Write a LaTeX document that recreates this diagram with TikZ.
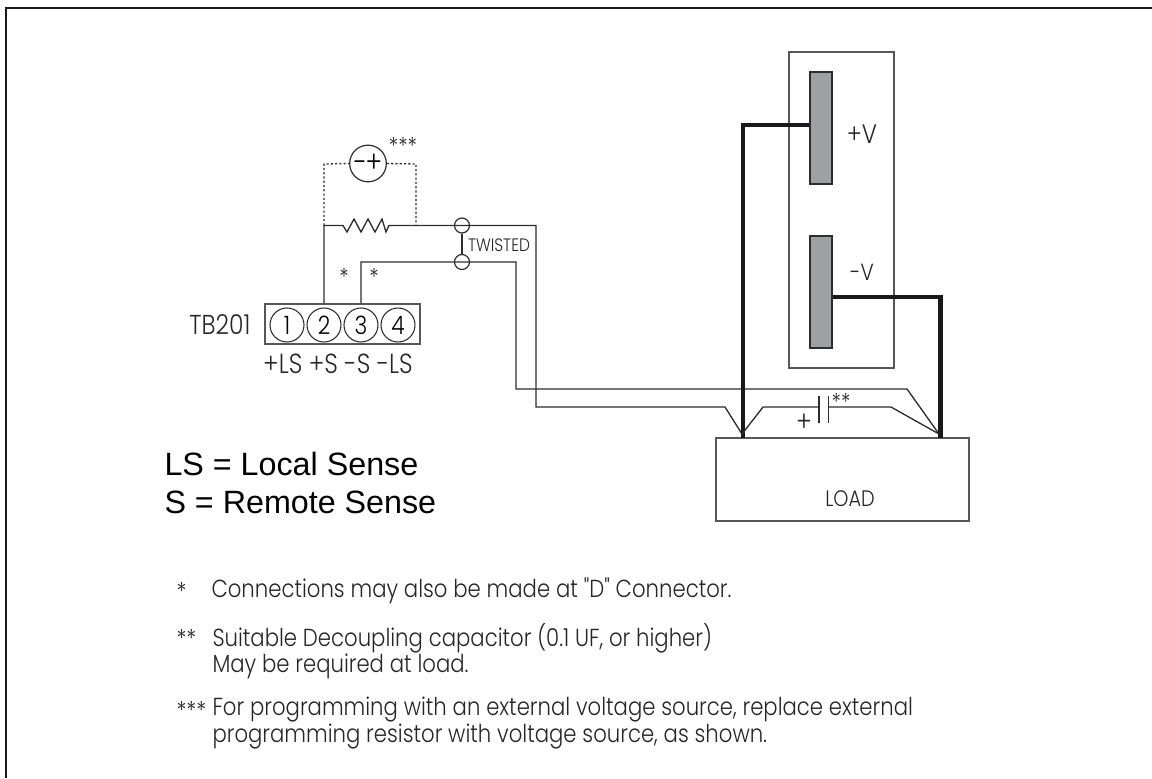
\documentclass[tikz,border=0pt]{standalone}
\usepackage{fontspec}
\setmainfont{Liberation Sans}
\newfontfamily\gothfont[FakeStretch=0.86]{Poppins Light}
\definecolor{platefill}{RGB}{158,160,163}
\definecolor{wireink}{RGB}{45,45,45}
\tikzset{every picture/.style={line width=0.75pt}}
\tikzset{
  wire/.style={draw=wireink,line width=1pt},
  dotlead/.style={draw=wireink,line width=1pt,dash pattern=on 1.6pt off 1.6pt},
  boxline/.style={draw=wireink!80,line width=1.1pt},
  powerwire/.style={draw=black!90,line width=3.5pt,miter limit=10},
  sensedot/.style={circle,draw=wireink,line width=0.9pt,minimum size=11.25pt,inner sep=0pt},
  pinlabel/.style={circle,draw=wireink,line width=0.8pt,minimum size=25.5pt,inner sep=0pt,font=\gothfont\fontsize{19}{20}\selectfont},
  plate/.style={draw=wireink,fill=platefill,line width=0.9pt,minimum width=16.5pt,minimum height=84pt,inner sep=0pt},
  gothlabel/.style={inner sep=0pt,font=\gothfont\fontsize{17.5}{18}\selectfont,text=black!85},
  notelabel/.style={inner sep=0pt,anchor=west,align=left,font=\gothfont\fontsize{18.5}{17.5}\selectfont,text=black!85},
  keylabel/.style={inner sep=0pt,anchor=west,font=\fontsize{24.2}{28}\selectfont}
}
\begin{document}
\begin{tikzpicture}[x=0.75pt,y=0.75pt,yscale=-1,xscale=1]
\useasboundingbox (0,0) rectangle (1152,778);

%Frame
\draw [black!90,line width=2.2pt] (6,778) -- (6,8) -- (1152,8) ;

%Supply
\node [boxline,rectangle,minimum width=78.75pt,minimum height=237pt,inner sep=0pt] (supply) at (841.5,210) {};
\node [plate] (plateplus) at (821,128) {};
\node [plate] (plateminus) at (821,292) {};
\node [gothlabel,font=\gothfont\fontsize{20}{22}\selectfont] (plusv) at (862,134) {+V};
\node [gothlabel,font=\gothfont\fontsize{17.5}{22}\selectfont] (minusv) at (862,272) {-V};

%Load
\node [boxline,rectangle,minimum width=189.75pt,minimum height=62.25pt,inner sep=0pt] (load) at (842.5,479.5) {};
\node [gothlabel,font=\gothfont\fontsize{16.8}{18}\selectfont] (loadtext) at (850,499) {LOAD};

%Terminal block
\node [boxline,rectangle,minimum width=116.25pt,minimum height=30pt,inner sep=0pt] (block) at (342.5,324) {};
\node [pinlabel] (pinone) at (287,325) {1};
\node [pinlabel] (pintwo) at (324,325) {2};
\node [pinlabel] (pinthree) at (361,325) {3};
\node [pinlabel] (pinfour) at (398,325) {4};
\node [gothlabel,font=\gothfont\fontsize{20.5}{22}\selectfont,anchor=east] (tbtext) at (251,325) {TB201};
\node [gothlabel,font=\gothfont\fontsize{20.7}{22}\selectfont] (pintext) at (338,364) {+LS +S -S -LS};

%Voltage source
\node [circle,draw=wireink,line width=0.9pt,minimum size=27.5pt,inner sep=0pt,font=\gothfont\fontsize{22}{24}\selectfont] (source) at (368,163.5) {-\kern-1pt+};
\node [gothlabel] (starsthree) at (403,146) {***};

%Twisted pair
\node [sensedot] (twistup) at (462,225.5) {};
\node [sensedot] (twistdown) at (462,262) {};
\node [gothlabel,font=\gothfont\fontsize{13.5}{14}\selectfont] (twisttext) at (499,245) {TWISTED};
\node [gothlabel] (starleft) at (344,277) {*};
\node [gothlabel] (starright) at (374,277) {*};

\coordinate (senseplus) at (324,225.5);
\coordinate (dotright) at (416,225.5);
\coordinate (resleft) at (343,225.5);
\coordinate (resright) at (389,225.5);
\coordinate (loadleft) at (742,434);
\coordinate (loadright) at (939,434);

%Sense wires
\draw [wire] (pintwo |- block.north) -- (senseplus) -- (resleft) -- (347,232) -- (354,219) -- (361,232) -- (368,219) -- (375,232) -- (382,219) -- (386,232) -- (resright) -- (twistup.center) -- (536,225.5) -- (536,407) -- (725,407) -- (loadleft) ;
\draw [wire] (pinthree |- block.north) -- (361,262) -- (twistdown.center) -- (516,262) -- (516,389) -- (907,389) -- (loadright) ;
\draw [wire] (twistup) -- (twistdown) ;

%Programming leads
\draw [dotlead] (senseplus) -- (324,164) -- (source.west) ;
\draw [dotlead] (source.east) -- (416,164) -- (dotright) ;

%Power wires
\draw [powerwire] (plateplus.west |- 0,125) -- (743,125) -- (743,438) ;
\draw [powerwire] (plateminus.east |- 0,297) -- (940.5,297) -- (940.5,438) ;

%Decoupling capacitor
\coordinate (capleft) at (819,407);
\coordinate (capright) at (828.5,407);
\draw [wire] (loadleft) -- (763,407) -- (capleft) ;
\draw [wire] (capright) -- (891,407) -- (loadright) ;
\draw [wire] (819,396) -- (819,423) ;
\draw [wire] (828.5,396) -- (828.5,423) ;
\node [gothlabel,font=\gothfont\fontsize{21}{22}\selectfont] (capplus) at (804,423) {+};
\node [gothlabel] (capstars) at (841,402) {**};

%Key
\node [keylabel] (keyone) at (164,464) {LS = Local Sense};
\node [keylabel] (keytwo) at (164,502) {S = Remote Sense};

%Notes
\node [notelabel] (markone) at (176,591) {*};
\node [notelabel] (noteone) at (211,591) {Connections may also be made at "D" Connector.};
\node [notelabel] (marktwo) at (176,638) {**};
\node [notelabel] (notetwo) at (212,651) {Suitable Decoupling capacitor (0.1 UF, or higher)\\May be required at load.};
\node [notelabel] (markthree) at (176,710) {***};
\node [notelabel] (notethree) at (212,723) {For programming with an external voltage source, replace external\\programming resistor with voltage source, as shown.};
\end{tikzpicture}
\end{document}
